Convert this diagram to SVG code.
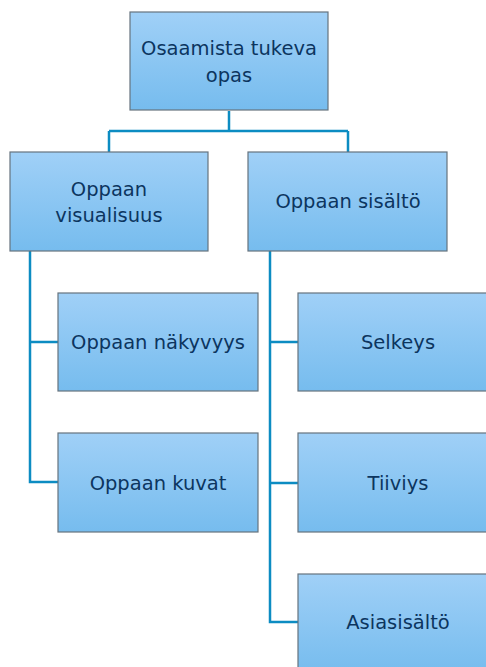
<svg xmlns="http://www.w3.org/2000/svg" width="486" height="667" viewBox="0 0 486 667">
<defs>
<linearGradient id="g" x1="0" y1="0" x2="0" y2="1">
<stop offset="0" stop-color="#a0d0f7"/>
<stop offset="1" stop-color="#76bcee"/>
</linearGradient>
</defs>
<style>
.box{fill:url(#g);stroke:#66737e;stroke-width:1.2}
.t{font-family:"DejaVu Sans","Liberation Sans",sans-serif;font-size:19.5px;fill:#0c355f;text-anchor:middle;dominant-baseline:central}
.c{fill:none;stroke:#0c8cc2;stroke-width:2.5}
</style>
<rect width="486" height="667" fill="#ffffff"/>
<g id="connectors">
<path class="c" d="M229 111V131M109 131H348M109 131V152M348 131V152"/>
<path class="c" d="M30 251V482H58M30 342H58"/>
<path class="c" d="M270 251V622H298M270 342H298M270 483H298"/>
</g>
<g id="n-root">
<rect class="box" x="130" y="12" width="198" height="98"/>
<text class="t" x="229" y="48">Osaamista tukeva</text>
<text class="t" x="229" y="75">opas</text>
</g>
<g id="n-visual">
<rect class="box" x="10" y="152" width="198" height="99"/>
<text class="t" x="109" y="189">Oppaan</text>
<text class="t" x="109" y="215">visualisuus</text>
</g>
<g id="n-content">
<rect class="box" x="248" y="152" width="199" height="99"/>
<text class="t" x="348" y="201">Oppaan sisältö</text>
</g>
<g id="n-nakyvyys">
<rect class="box" x="58" y="293" width="200" height="98"/>
<text class="t" x="158" y="342">Oppaan näkyvyys</text>
</g>
<g id="n-kuvat">
<rect class="box" x="58" y="433" width="200" height="99"/>
<text class="t" x="158" y="483">Oppaan kuvat</text>
</g>
<g id="n-selkeys">
<rect class="box" x="298" y="293" width="200" height="98"/>
<text class="t" x="398" y="342">Selkeys</text>
</g>
<g id="n-tiiviys">
<rect class="box" x="298" y="433" width="200" height="99"/>
<text class="t" x="398" y="483">Tiiviys</text>
</g>
<g id="n-asia">
<rect class="box" x="298" y="574" width="200" height="99"/>
<text class="t" x="398" y="622">Asiasisältö</text>
</g>
</svg>
